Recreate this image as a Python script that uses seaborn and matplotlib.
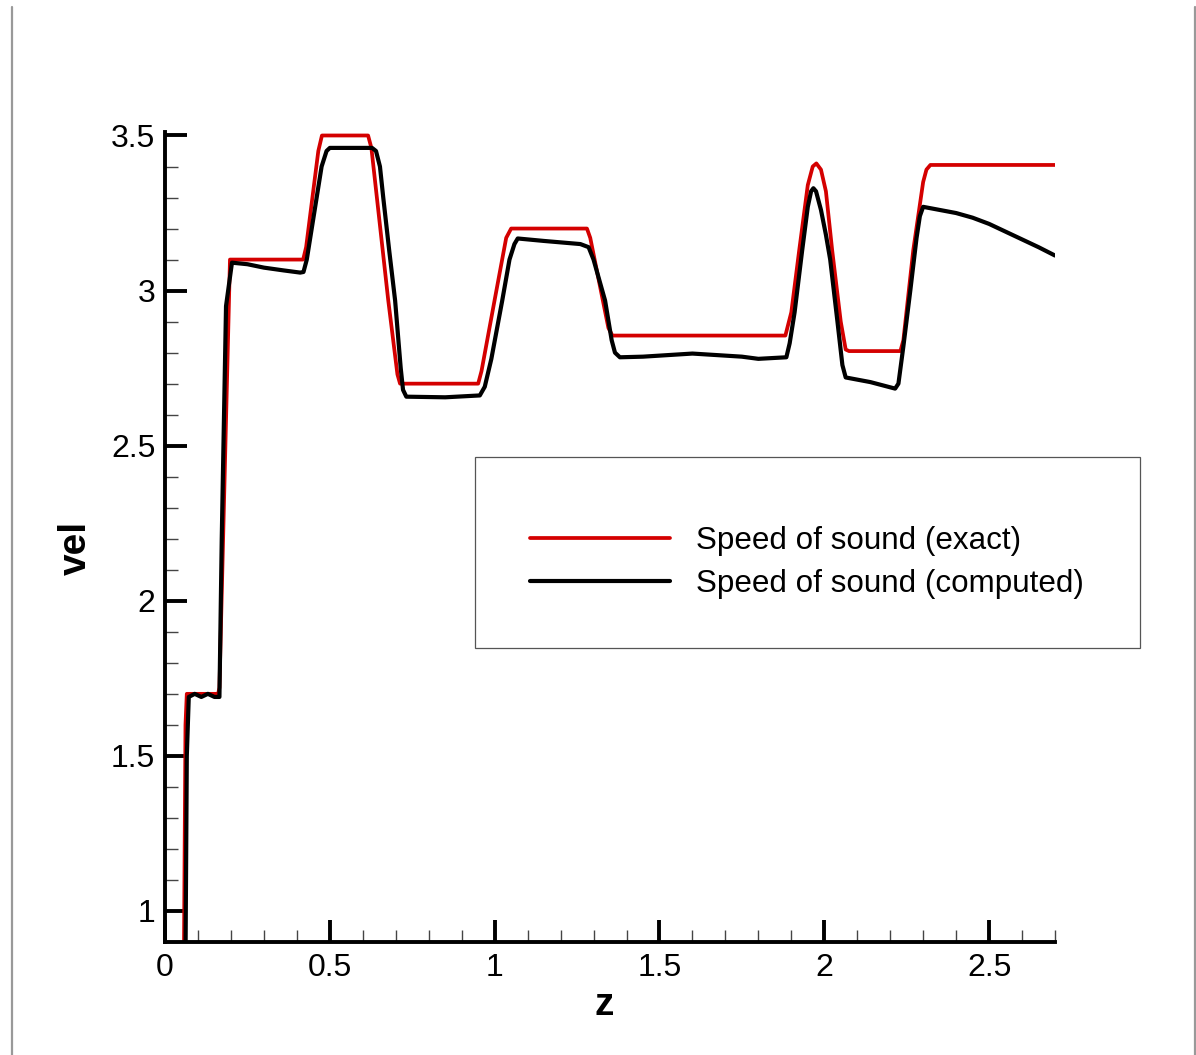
import numpy as np
import pandas as pd
import matplotlib
matplotlib.use("Agg")
import matplotlib.pyplot as plt
import seaborn as sns
from matplotlib.lines import Line2D
from matplotlib.patches import Rectangle

# ---- data ----
exact_z = [0.0, 0.055, 0.062, 0.066, 0.161, 0.165, 0.197, 0.419, 0.428, 0.465, 0.476,
           0.616, 0.626, 0.677, 0.705, 0.713, 0.950, 0.960, 1.000, 1.035, 1.050,
           1.280, 1.290, 1.345, 1.357, 1.882, 1.900, 1.924, 1.950, 1.965, 1.976,
           1.990, 2.005, 2.024, 2.050, 2.065, 2.075, 2.231, 2.240, 2.270, 2.300,
           2.310, 2.322, 2.700]
exact_vel = [0.50, 0.50, 1.60, 1.70, 1.70, 1.72, 3.10, 3.10, 3.14, 3.45, 3.50,
             3.50, 3.46, 2.97, 2.73, 2.70, 2.70, 2.74, 2.97, 3.17, 3.20,
             3.20, 3.17, 2.88, 2.855, 2.855, 2.93, 3.13, 3.34, 3.40, 3.41,
             3.39, 3.32, 3.13, 2.90, 2.81, 2.805, 2.805, 2.84, 3.13, 3.35,
             3.39, 3.405, 3.405]

comp_z = [0.0, 0.060, 0.066, 0.072, 0.090, 0.110, 0.130, 0.150, 0.165, 0.172, 0.185,
          0.203, 0.250, 0.300, 0.360, 0.410, 0.420, 0.430, 0.445, 0.460, 0.475,
          0.490, 0.500, 0.628, 0.640, 0.652, 0.662, 0.680, 0.698, 0.715, 0.722,
          0.732, 0.850, 0.955, 0.970, 0.990, 1.023, 1.045, 1.060, 1.070, 1.150,
          1.260, 1.285, 1.300, 1.335, 1.355, 1.365, 1.380, 1.450, 1.600, 1.750,
          1.800, 1.885, 1.895, 1.910, 1.933, 1.950, 1.960, 1.967, 1.975, 1.990,
          2.005, 2.018, 2.040, 2.055, 2.065, 2.140, 2.215, 2.225, 2.240, 2.261,
          2.280, 2.290, 2.300, 2.350, 2.400, 2.450, 2.500, 2.550, 2.600, 2.650,
          2.700]
comp_vel = [0.50, 0.50, 1.50, 1.69, 1.70, 1.69, 1.70, 1.69, 1.69, 2.20, 2.95,
            3.09, 3.085, 3.074, 3.065, 3.058, 3.06, 3.10, 3.20, 3.30, 3.40,
            3.45, 3.46, 3.46, 3.45, 3.40, 3.30, 3.13, 2.968, 2.75, 2.68,
            2.658, 2.656, 2.662, 2.69, 2.78, 2.968, 3.10, 3.15, 3.168, 3.16,
            3.15, 3.14, 3.10, 2.968, 2.84, 2.80, 2.785, 2.787, 2.797, 2.787,
            2.780, 2.785, 2.83, 2.93, 3.13, 3.27, 3.32, 3.33, 3.32, 3.26,
            3.18, 3.10, 2.90, 2.76, 2.72, 2.705, 2.684, 2.70, 2.82, 3.00,
            3.17, 3.24, 3.27, 3.26, 3.25, 3.235, 3.215, 3.19, 3.165, 3.14,
            3.113]

labels = ["Speed of sound (exact)", "Speed of sound (computed)"]
xticks_major = [0, 0.5, 1, 1.5, 2, 2.5]
xtick_labels = ["0", "0.5", "1", "1.5", "2", "2.5"]
yticks_major = [1, 1.5, 2, 2.5, 3, 3.5]
ytick_labels = ["1", "1.5", "2", "2.5", "3", "3.5"]

# ---- style ----
sns.set_style("ticks")
plt.rcParams["font.family"] = ["Liberation Sans", "DejaVu Sans"]
plt.rcParams["text.color"] = "black"
plt.rcParams["axes.labelcolor"] = "black"
plt.rcParams["xtick.color"] = "black"
plt.rcParams["ytick.color"] = "black"

fig = plt.figure(figsize=(11.96, 10.55), dpi=100)
ax = fig.add_axes([0.138, 0.1071, 0.7441, 0.768])

red = "#d40000"
sns.lineplot(x=exact_z, y=exact_vel, ax=ax, sort=False, estimator=None,
             color=red, lw=2.7, label=labels[0])
sns.lineplot(x=comp_z, y=comp_vel, ax=ax, sort=False, estimator=None,
             color="black", lw=3.0, label=labels[1])

ax.set_xlim(0, 2.7)
ax.set_ylim(0.903, 3.512)

ax.set_xticks(xticks_major)
ax.set_xticklabels(xtick_labels)
ax.set_yticks(yticks_major)
ax.set_yticklabels(ytick_labels)
ax.set_xticks(np.arange(0, 2.71, 0.1), minor=True)
ax.set_yticks(np.arange(0.9, 3.51, 0.1), minor=True)

ax.tick_params(which="major", direction="in", length=16, width=2.8,
               labelsize=23, pad=7)
ax.tick_params(which="minor", direction="in", length=9, width=1.0,
               color="#444444")
ax.tick_params(axis="x", which="major", pad=8)

for s in ["top", "right"]:
    ax.spines[s].set_visible(False)
for s in ["left", "bottom"]:
    ax.spines[s].set_linewidth(2.8)
    ax.spines[s].set_color("black")

ax.set_xlabel("z", fontsize=28, fontweight="bold")
ax.set_ylabel("vel", fontsize=28, fontweight="bold")
ax.xaxis.set_label_coords(0.494, -0.055)
ax.yaxis.set_label_coords(-0.080, 0.486)

# legend frame and legend entries
fig.add_artist(Rectangle((475 / 1196, 1 - 648 / 1055), 665 / 1196, 191 / 1055,
                         transform=fig.transFigure, fill=False,
                         edgecolor="#555555", lw=0.9))
ax.legend(loc="center left", bbox_to_anchor=(530 / 1196, 1 - 562.5 / 1055),
          bbox_transform=fig.transFigure, frameon=False, fontsize=22.6,
          handlelength=4.45, handletextpad=0.85, labelspacing=0.42,
          borderpad=0, borderaxespad=0)

# page border lines
for xp in [12, 1194.5]:
    fig.add_artist(Line2D([xp / 1196, xp / 1196], [0, 1 - 7 / 1055],
                          transform=fig.transFigure, color="#999999", lw=1.6))

fig.savefig("out.png", dpi=100, facecolor="white")
